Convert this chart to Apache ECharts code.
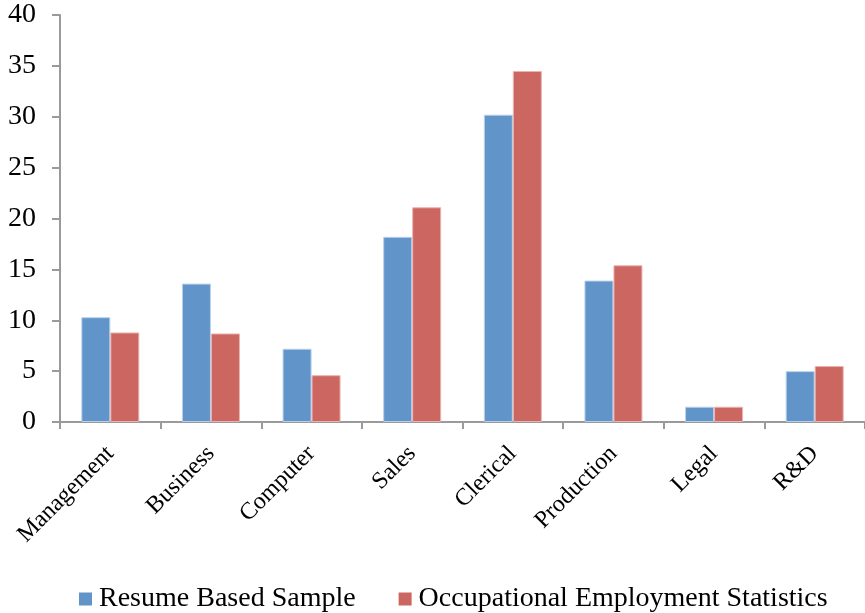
<!DOCTYPE html>
<html>
<head>
<meta charset="utf-8">
<script src="https://cdn.jsdelivr.net/npm/echarts@6/dist/echarts.min.js"></script>
<style>
  html, body { margin: 0; padding: 0; background: #fff; }
  #chart { width: 865px; height: 613px; }
</style>
</head>
<body>
<div id="chart"></div>
<script>
// Occupation categories and the share (%) in each source
const categories = ['Management', 'Business', 'Computer', 'Sales', 'Clerical', 'Production', 'Legal', 'R&D'];
const resumeSample = [10.3, 13.6, 7.2, 18.2, 30.2, 13.9, 1.5, 5.0];
const oesShare = [8.8, 8.7, 4.6, 21.1, 34.5, 15.4, 1.5, 5.5];
const seriesNames = ['Resume Based Sample', 'Occupational Employment Statistics'];

const FONT = '"Liberation Serif", "Times New Roman", serif';
const AXIS_GRAY = '#9a9a9a';

const chart = echarts.init(document.getElementById('chart'), null, { renderer: 'canvas' });

chart.setOption({
  animation: false,
  backgroundColor: '#ffffff',
  textStyle: { fontFamily: FONT, color: '#000' },
  grid: { left: 60, right: -9, top: 15, bottom: 191, containLabel: false },
  legend: {
    data: seriesNames,
    left: 74,
    top: 580,
    itemWidth: 13,
    itemHeight: 13,
    itemGap: 43,
    icon: 'rect',
    itemStyle: { borderWidth: 0 },
    textStyle: { fontFamily: FONT, fontSize: 28, color: '#000', padding: [0, 0, 0, 2] }
  },
  xAxis: {
    type: 'category',
    data: categories,
    axisLine: { lineStyle: { color: AXIS_GRAY, width: 2 } },
    axisTick: { show: true, length: 7, lineStyle: { color: AXIS_GRAY, width: 2 } },
    axisLabel: {
      rotate: 45,
      margin: 28,
      fontFamily: FONT,
      fontSize: 24,
      color: '#000',
      interval: 0
    }
  },
  yAxis: {
    type: 'value',
    min: 0,
    max: 40,
    interval: 5,
    axisLine: { show: true, lineStyle: { color: AXIS_GRAY, width: 2 } },
    axisTick: { show: true, length: 8, lineStyle: { color: AXIS_GRAY, width: 2 } },
    splitLine: { show: false },
    axisLabel: { margin: 24, fontFamily: FONT, fontSize: 28, color: '#000', padding: [5, 0, 0, 0] }
  },
  series: [
    {
      name: seriesNames[0],
      type: 'bar',
      data: resumeSample,
      barWidth: 29,
      barGap: '0%',
      itemStyle: { color: '#6195c9', borderColor: '#b9d0ea', borderWidth: 1 }
    },
    {
      name: seriesNames[1],
      type: 'bar',
      data: oesShare,
      barWidth: 29,
      barGap: '0%',
      itemStyle: { color: '#cc6660', borderColor: '#eab3b0', borderWidth: 1 }
    }
  ]
});
</script>
</body>
</html>
